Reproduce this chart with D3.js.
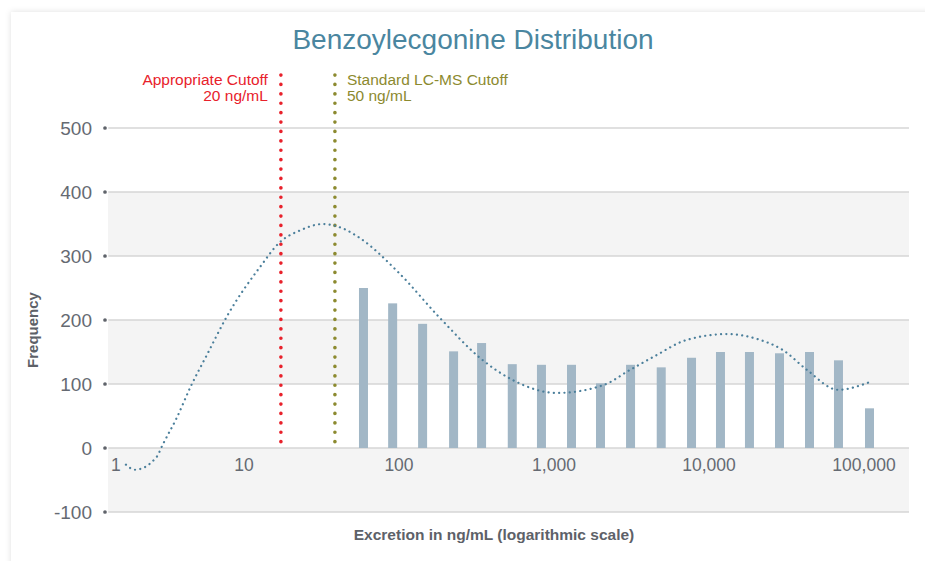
<!DOCTYPE html>
<html>
<head>
<meta charset="utf-8">
<script src="https://cdn.jsdelivr.net/npm/d3@7/dist/d3.min.js"></script>
<style>
  body { margin: 0; background: #fff; font-family: "Liberation Sans", Arial, sans-serif; }
  #chart { position: absolute; left: 0; top: 0; }
</style>
</head>
<body>
<div id="chart"></div>
<script>
// bar positions (ng/mL) and frequencies
const binCenters = [59, 91, 142, 225, 341, 538, 830, 1297, 1995, 3118, 4918, 7714, 11858, 18240, 28500, 44500, 68440, 108500];
const binCounts = [250, 226, 194, 151, 164, 131, 130, 130, 101, 130, 126, 141, 150, 150, 148, 150, 137, 62];

// fitted distribution curve [ng/mL, frequency]
const curveX = [1.73, 1.98, 2.73, 3.0, 3.68, 4.55, 5.75, 7.73, 12.7, 17.1, 23.0, 32.3, 43.5, 56.0, 98.6, 184, 348, 544, 1045, 2070, 3090, 4350, 7210, 13060, 21300, 30000, 42900, 67900, 109000];
const curveY = [-26, -34, -14, 6, 47, 97, 145, 205, 283, 322, 340, 350, 343, 328, 275, 203, 137, 106, 86, 98, 122, 142, 169, 178, 169, 153, 122, 91, 103];

const xTicks = [1, 10, 100, 1000, 10000, 100000];
const yTicks = [-100, 0, 100, 200, 300, 400, 500];

const cutoffNames = ["Appropriate Cutoff", "Standard LC-MS Cutoff"];
const cutoffLabels = ["20 ng/mL", "50 ng/mL"];
const cutoffAt = [17.3, 38.6];  // where the lines are drawn in the picture
const cutoffColors = ["#e8212b", "#8c8a2f"];

const width = 925, height = 561;
const plot = { left: 108, right: 909, top: 128, bottom: 512 };

const svg = d3.select('#chart').append('svg')
  .attr('width', width)
  .attr('height', height);

// card with soft shadow
const defs = svg.append('defs');
const shadow = defs.append('filter').attr('id', 'shadow')
  .attr('x', '-5%').attr('y', '-5%').attr('width', '110%').attr('height', '110%');
shadow.append('feDropShadow')
  .attr('dx', 0).attr('dy', 0).attr('stdDeviation', 3)
  .attr('flood-color', '#000').attr('flood-opacity', 0.12);
svg.append('rect')
  .attr('x', 11).attr('y', 12).attr('width', 940).attr('height', 580)
  .attr('fill', '#fff').attr('filter', 'url(#shadow)');

const x = d3.scaleLog()
  .domain([Math.pow(10, (plot.left - 89) / 155), Math.pow(10, (plot.right - 89) / 155)])
  .range([plot.left, plot.right]);
const y = d3.scaleLinear()
  .domain([-100, 500])
  .range([plot.bottom, plot.top]);

// alternating bands
const bands = [[-100, 0], [100, 200], [300, 400]];
svg.append('g').selectAll('rect').data(bands).join('rect')
  .attr('x', plot.left)
  .attr('width', plot.right - plot.left)
  .attr('y', d => y(d[1]))
  .attr('height', d => y(d[0]) - y(d[1]))
  .attr('fill', '#f4f4f4');

// grid lines
svg.append('g').selectAll('line').data(yTicks).join('line')
  .attr('x1', plot.left).attr('x2', plot.right)
  .attr('y1', d => y(d)).attr('y2', d => y(d))
  .attr('stroke', '#d6d6d6').attr('stroke-width', 1.5);

// y axis: dots + labels
const yAxis = svg.append('g');
yAxis.selectAll('circle').data(yTicks).join('circle')
  .attr('cx', 105).attr('cy', d => y(d)).attr('r', 2.6)
  .attr('fill', '#5f636a').attr('stroke', '#fff').attr('stroke-width', 1.5);
yAxis.selectAll('text').data(yTicks).join('text')
  .attr('x', 92).attr('y', d => y(d)).attr('dy', '0.36em')
  .attr('text-anchor', 'end')
  .attr('font-size', 19).attr('fill', '#656a72')
  .text(d => d);

// x axis labels
const fmt = d3.format(',');
svg.append('g').selectAll('text').data(xTicks).join('text')
  .attr('x', d => d === 1 ? 111 : x(d))
  .attr('y', 471)
  .attr('text-anchor', d => d === 1 ? 'start' : 'middle')
  .attr('font-size', 17.5).attr('fill', '#656a72')
  .text(d => fmt(d));

// bars
svg.append('g').selectAll('rect').data(binCenters).join('rect')
  .attr('x', d => x(d) - 4.5)
  .attr('width', 9)
  .attr('y', (d, i) => y(binCounts[i]))
  .attr('height', (d, i) => y(0) - y(binCounts[i]))
  .attr('fill', '#a2b7c6');

// cutoff lines
const cut = svg.append('g');
cutoffAt.forEach((v, i) => {
  cut.append('line')
    .attr('x1', x(v)).attr('x2', x(v))
    .attr('y1', 75).attr('y2', y(0) - 2)
    .attr('stroke', cutoffColors[i]).attr('stroke-width', 3.6)
    .attr('stroke-linecap', 'round')
    .attr('stroke-dasharray', '0.1 9.3');
  const right = i === 0;
  const tx = right ? x(v) - 13 : x(v) + 12;
  const t = cut.append('text')
    .attr('x', tx).attr('y', 85)
    .attr('text-anchor', right ? 'end' : 'start')
    .attr('font-size', 15.5).attr('fill', cutoffColors[i]);
  t.append('tspan').attr('x', tx).text(cutoffNames[i]);
  t.append('tspan').attr('x', tx).attr('dy', 16).text(cutoffLabels[i]);
});

// distribution curve
const line = d3.line()
  .x(d => x(d[0]))
  .y(d => y(d[1]))
  .curve(d3.curveMonotoneX);
svg.append('path')
  .datum(curveX.map((v, i) => [v, curveY[i]]))
  .attr('d', line)
  .attr('fill', 'none')
  .attr('stroke', '#4b7f9b').attr('stroke-width', 2.2)
  .attr('stroke-linecap', 'round')
  .attr('stroke-dasharray', '0.1 5.2');

// titles
svg.append('text')
  .attr('x', 473).attr('y', 49)
  .attr('text-anchor', 'middle')
  .attr('font-size', 28).attr('fill', '#4a86a0')
  .text('Benzoylecgonine Distribution');

svg.append('text')
  .attr('transform', 'translate(38,330) rotate(-90)')
  .attr('text-anchor', 'middle')
  .attr('font-size', 15).attr('font-weight', 'bold').attr('fill', '#5d6168')
  .text('Frequency');

svg.append('text')
  .attr('x', 494).attr('y', 540)
  .attr('text-anchor', 'middle')
  .attr('font-size', 15.5).attr('font-weight', 'bold').attr('fill', '#5d6168')
  .text('Excretion in ng/mL (logarithmic scale)');
</script>
</body>
</html>
